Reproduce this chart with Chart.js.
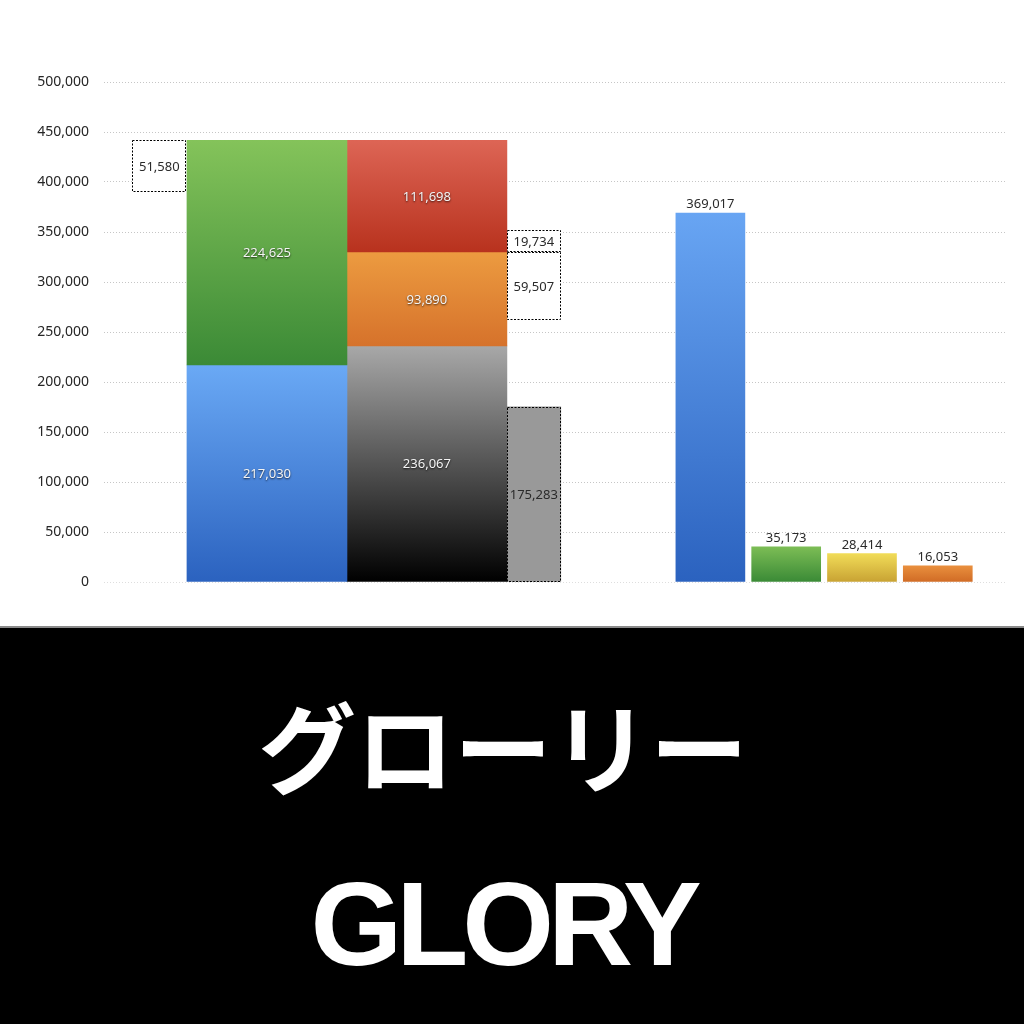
<!DOCTYPE html>
<html lang="ja">
<head>
<meta charset="utf-8">
<title>グローリー GLORY</title>
<script src="https://cdn.jsdelivr.net/npm/chart.js@4.4.1/dist/chart.umd.min.js"></script>
<style>
  html, body { margin: 0; padding: 0; background: #fff; }
  body { width: 1024px; height: 1024px; position: relative; overflow: hidden; }
  #chartBox { position: absolute; left: 0; top: 0; width: 1024px; height: 626px; }
  #band { position: absolute; left: 0; top: 626px; width: 1024px; height: 398px; background: #000; border-top: 2px solid #8a8a8a; box-sizing: border-box; }
  .title { position: absolute; left: 0; width: 1006px; text-align: center; color: #fff; font-weight: bold; white-space: nowrap; }
  #titleJa { top: 694px; font-family: "Noto Sans CJK JP", sans-serif; font-size: 98px; line-height: 98px; }
  #titleEn { top: 865px; font-family: "Liberation Sans", Arial, sans-serif; font-size: 118px; line-height: 118px; letter-spacing: -6px; }
</style>
</head>
<body>
<div id="chartBox"><canvas id="bsplChart"></canvas></div>
<div id="band"></div>
<div class="title" id="titleJa">グローリー</div>
<div class="title" id="titleEn">GLORY</div>

<script>
// ---- data ----
// left block: assets (bottom -> top)
const assetNames = ["固定資産", "流動資産"];
const assetValues = [217030, 224625];
// right block: net assets / liabilities (bottom -> top)
const liabilityNames = ["純資産", "固定負債", "流動負債"];
const liabilityValues = [236067, 93890, 111698];
// dashed note boxes: shown value and the span they cover on the axis
const noteNames = ["現預金", "有利子負債", "固定負債内訳", "利益剰余金"];
const noteValues = [51580, 19734, 59507, 175283];
const noteRanges = [[390075, 441655], [329957, 352000], [262000, 329957], [0, 175283]];
// income statement
const plNames = ["売上高", "営業利益", "経常利益", "純利益"];
const plValues = [369017, 35173, 28414, 16053];
// y axis
const yMin = 0;
const yMax = 500000;
const yStep = 50000;

// column slots on the hidden x axis: note, assets, liabilities, note, PL x4
const columnSlots = [0.73, 2.15, 4.26, 5.67, 8, 9, 10, 11];

// ---- colours ----
const assetColors = [["#6aa9f5", "#2b62bf"], ["#84c35a", "#3b8a36"]];
const liabilityColors = [["#a8a8a8", "#000000"], ["#ec9b40", "#d6722b"], ["#dd6555", "#b8321e"]];
const plColors = [["#68a5f3", "#2b62bf"], ["#7cbd55", "#3a8a36"], ["#f1dc58", "#c8a233"], ["#e98f3d", "#d06b25"]];
const noteFill = ["#ffffff", "#ffffff", "#ffffff", "#999999"];

function stackRanges(values) {
    let acc = 0;
    return values.map((v) => [acc, (acc += v)]);
}

function barGradient(stops) {
    return (ctx) => {
        const pair = stops[ctx.dataIndex] || stops[0];
        const chart = ctx.chart;
        if (!chart.chartArea || !ctx.raw) return pair[0];
        const ys = chart.scales.y;
        const top = ys.getPixelForValue(ctx.raw.y[1]);
        const bottom = ys.getPixelForValue(ctx.raw.y[0]);
        const g = chart.ctx.createLinearGradient(0, top, 0, bottom);
        g.addColorStop(0, pair[0]);
        g.addColorStop(1, pair[1]);
        return g;
    };
}

const fmt = (v) => v.toLocaleString("en-US");

// note box slots: first box left of assets, the rest right of liabilities
const noteSlots = [columnSlots[0], columnSlots[3], columnSlots[3], columnSlots[3]];

const data = {
    datasets: [
        {
            label: "資産",
            data: stackRanges(assetValues).map((r) => ({ x: columnSlots[1], y: r })),
            backgroundColor: barGradient(assetColors),
            barThickness: 160,
            labelValues: assetValues,
            labelStyle: "inside",
        },
        {
            label: "負債・純資産",
            data: stackRanges(liabilityValues).map((r) => ({ x: columnSlots[2], y: r })),
            backgroundColor: barGradient(liabilityColors),
            barThickness: 160,
            labelValues: liabilityValues,
            labelStyle: "inside",
        },
        {
            label: "注記",
            data: noteRanges.map((r, i) => ({ x: noteSlots[i], y: r })),
            backgroundColor: noteFill,
            barThickness: 54,
            labelValues: noteValues,
            labelStyle: "box",
        },
        {
            label: "損益",
            data: plValues.map((v, i) => ({ x: columnSlots[4 + i], y: [0, v] })),
            backgroundColor: barGradient(plColors),
            barThickness: 69,
            labelValues: plValues,
            labelStyle: "above",
        },
    ],
};

// dashed outlines + value labels
const valueLabels = {
    id: "valueLabels",
    afterDatasetsDraw(chart) {
        const c = chart.ctx;
        chart.data.datasets.forEach((ds, di) => {
            const meta = chart.getDatasetMeta(di);
            meta.data.forEach((bar, i) => {
                const { x, y, base, width } = bar.getProps(["x", "y", "base", "width"], true);
                const text = fmt(ds.labelValues[i]);
                c.save();
                c.font = "13px 'Noto Sans', sans-serif";
                c.textAlign = "center";
                if (ds.labelStyle === "box") {
                    c.setLineDash([2, 1.5]);
                    c.strokeStyle = "#000";
                    c.lineWidth = 1;
                    c.strokeRect(Math.round(x - width / 2) + 0.5, Math.round(y) + 0.5, Math.round(width) - 1, Math.round(base - y) - 1);
                    c.setLineDash([]);
                    c.fillStyle = "#2a2a2a";
                    c.textBaseline = "middle";
                    c.fillText(text, x, (y + base) / 2 + 1);
                } else if (ds.labelStyle === "inside") {
                    c.shadowColor = "rgba(0,0,0,0.75)";
                    c.shadowBlur = 2;
                    c.shadowOffsetY = 1;
                    c.fillStyle = "#f4f4f4";
                    c.textBaseline = "middle";
                    c.fillText(text, x, (y + base) / 2 + 1);
                } else {
                    c.fillStyle = "#2a2a2a";
                    c.textBaseline = "bottom";
                    c.fillText(text, x, y - 2);
                }
                c.restore();
            });
        });
    },
};

const config = {
    type: "bar",
    data: data,
    options: {
        responsive: true,
        maintainAspectRatio: false,
        animation: false,
        grouped: false,
        borderWidth: 0,
        layout: {
            padding: { top: 82, right: 18, bottom: 44, left: 0 },
        },
        plugins: {
            legend: { display: false },
            tooltip: { enabled: false },
        },
        scales: {
            x: {
                type: "linear",
                display: false,
                min: 0,
                max: 11.9,
                offset: false,
            },
            y: {
                min: yMin,
                max: yMax,
                afterFit: (scale) => {
                    scale.width = 104;
                },
                border: { display: false },
                grid: {
                    drawTicks: false,
                    color: (ctx) => (ctx.tick && ctx.tick.value === 0 ? "#dedede" : "#c6c6c6"),
                    lineWidth: 1,
                },
                ticks: {
                    stepSize: yStep,
                    padding: 15,
                    color: "#262626",
                    font: { family: "'Noto Sans', sans-serif", size: 14 },
                    callback: (v) => fmt(v),
                },
            },
        },
    },
    plugins: [valueLabels],
};
config.options.scales.y.border.dash = [1, 2];
config.options.scales.y.grid.borderDash = [1, 2];

var ctx = document.getElementById("bsplChart").getContext("2d");
var bsplChart = new Chart(ctx, config);
</script>
</body>
</html>
